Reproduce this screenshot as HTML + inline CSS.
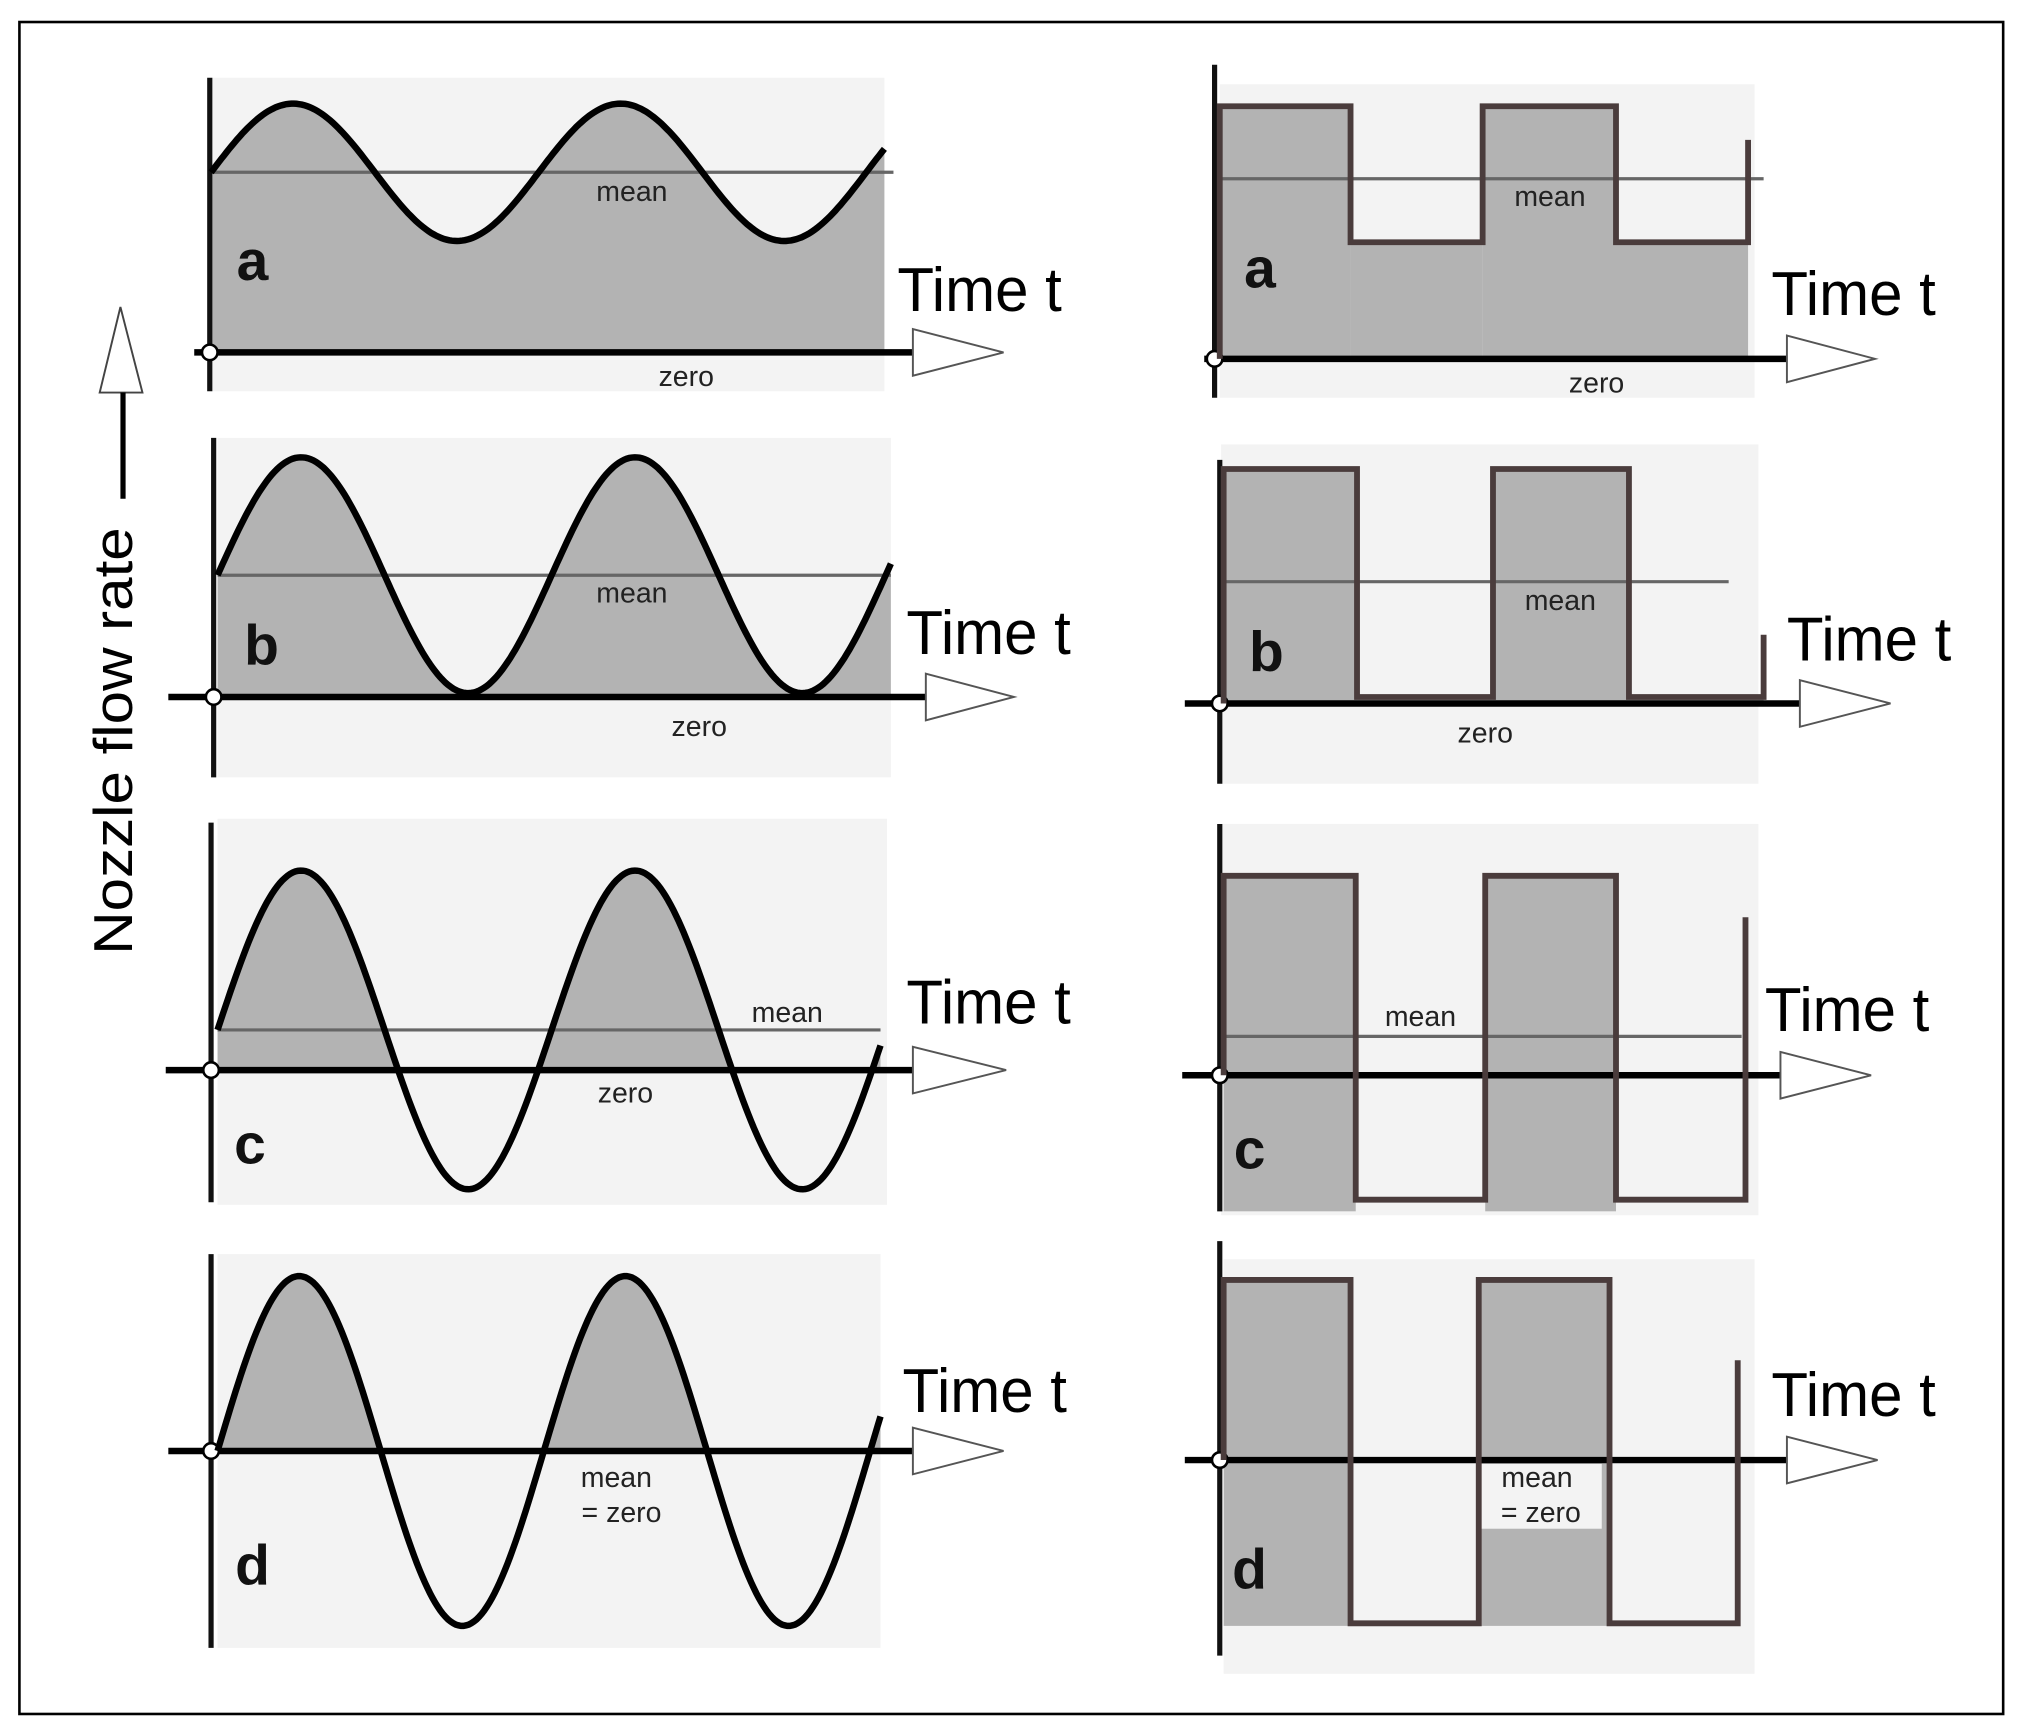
<!DOCTYPE html>
<html><head><meta charset="utf-8"><style>
html,body{margin:0;padding:0;background:#fff;}
svg{display:block;}
text{font-family:"Liberation Sans",sans-serif;}
.lbl{font-size:22px;fill:#222;font-weight:500;}
.big{font-size:44px;font-weight:bold;fill:#111;}
.tt{font-size:48px;fill:#000;}
.nf{font-size:42px;fill:#000;}
</style></head><body>
<svg id="s" width="2020" height="1736" viewBox="0 0 1560 1340" preserveAspectRatio="none" xmlns="http://www.w3.org/2000/svg">
<rect x="15" y="17" width="1532" height="1306" fill="#fff" stroke="#000" stroke-width="2"/>
<g id="g"></g>
<polygon points="93,237 77,303 110,303" fill="#fff" stroke="#444" stroke-width="1.5"/>
<line x1="95" y1="303" x2="95" y2="385" stroke="#000" stroke-width="4"/>
<text class="nf" transform="translate(102,737) rotate(-90)" textLength="330" lengthAdjust="spacingAndGlyphs">Nozzle flow rate</text>
</svg>
<script>
var g=document.getElementById('g');var h='';
function sine(x0,x1,c,A,per,zero,bgx0,bgx1,bgy0,bgy1){
  var pts=[];for(var x=x0;x<=x1;x+=2){pts.push([x,c-A*Math.sin(2*Math.PI*(x-x0)/per)]);}
  var d='M'+pts.map(p=>p[0]+','+p[1].toFixed(1)).join(' L');
  var f='M'+x0+','+zero+' '+pts.map(p=>'L'+p[0]+','+Math.min(p[1],zero).toFixed(1)).join(' ')+' L'+pts[pts.length-1][0]+','+zero+'Z';
  h+='<rect x="'+bgx0+'" y="'+bgy0+'" width="'+(bgx1-bgx0)+'" height="'+(bgy1-bgy0)+'" fill="#f3f3f3"/>';
  h+='<path d="'+f+'" fill="#b3b3b3"/>';
  return d;
}
function axes(ax,ay0,ay1,zy,zx0,zx1,atip){
  h+='<line x1="'+ax+'" y1="'+ay0+'" x2="'+ax+'" y2="'+ay1+'" stroke="#111" stroke-width="4"/>';
  h+='<line x1="'+zx0+'" y1="'+zy+'" x2="'+zx1+'" y2="'+zy+'" stroke="#000" stroke-width="5"/>';
  h+='<polygon points="'+zx1+','+(zy-18)+' '+atip+','+zy+' '+zx1+','+(zy+18)+'" fill="#fff" stroke="#555" stroke-width="1.5"/>';
  h+='<ellipse cx="'+ax+'" cy="'+zy+'" rx="6" ry="6" fill="#fff" stroke="#000" stroke-width="2"/>';
}
function mean(x0,x1,y){h+='<line x1="'+x0+'" y1="'+y+'" x2="'+x1+'" y2="'+y+'" stroke="#666" stroke-width="2.5"/>';}
function txt(x,y,cls,s,anchor){h+='<text x="'+x+'" y="'+y+'" class="'+cls+'" text-anchor="'+(anchor||'middle')+'">'+s+'</text>';}
function timet(x,y){h+='<text x="'+x+'" y="'+y+'" class="tt" textLength="127" lengthAdjust="spacingAndGlyphs">Time t</text>';}
var d;
d=sine(163,683,133,53,253,272,163,683,60,302);
mean(163,690,133);axes(162,60,302,272,150,705,775);
h+='<path d="'+d+'" fill="none" stroke="#000" stroke-width="5"/>';
txt(488,155,'lbl','mean');txt(530,298,'lbl','zero');txt(195,216,'big','a');timet(693,240);
d=sine(168,688,444,91,258,538,168,688,338,600);
mean(168,688,444);axes(165,338,600,538,130,715,783);
h+='<path d="'+d+'" fill="none" stroke="#000" stroke-width="5"/>';
txt(488,465,'lbl','mean');txt(540,568,'lbl','zero');txt(202,513,'big','b');timet(700,505);
d=sine(168,680,795,123,258,826,168,685,632,930);
mean(168,680,795);axes(163,635,928,826,128,705,777);
h+='<path d="'+d+'" fill="none" stroke="#000" stroke-width="5"/>';
txt(608,789,'lbl','mean');txt(483,851,'lbl','zero');txt(193,898,'big','c');timet(700,790);
d=sine(168,680,1120,135,252,1120,168,680,968,1272);
axes(163,968,1272,1120,130,705,775);
h+='<path d="'+d+'" fill="none" stroke="#000" stroke-width="5"/>';
txt(476,1148,'lbl','mean');txt(480,1175,'lbl','= zero');txt(195,1223,'big','d');timet(697,1090);
function sq(bg,xs,hi,lo,endy,zero,fullfill,bot){
  h+='<rect x="'+bg[0]+'" y="'+bg[1]+'" width="'+(bg[2]-bg[0])+'" height="'+(bg[3]-bg[1])+'" fill="#f3f3f3"/>';
  for(var i=0;i<4;i++){var y=(i%2==0)?hi:lo;var yb=(fullfill&&i%2==0)?bot:zero;
    if(y<zero) h+='<rect x="'+xs[i]+'" y="'+y+'" width="'+(xs[i+1]-xs[i])+'" height="'+(yb-y)+'" fill="#b3b3b3"/>';}
  var p='M'+xs[0]+','+(zero)+' L'+xs[0]+','+hi+' L'+xs[1]+','+hi+' L'+xs[1]+','+lo+' L'+xs[2]+','+lo+' L'+xs[2]+','+hi+' L'+xs[3]+','+hi+' L'+xs[3]+','+lo+' L'+xs[4]+','+lo+' L'+xs[4]+','+endy;
  return p;
}
function sqdraw(p){h+='<path d="'+p+'" fill="none" stroke="#4a3c3c" stroke-width="4.5"/>';}
var p=sq([942,65,1355,307],[942,1043,1145,1248,1350],82,187,108,277,false);
mean(942,1362,138);axes(938,50,307,277,930,1380,1448);sqdraw(p);
txt(1197,159,'lbl','mean');txt(1233,303,'lbl','zero');txt(973,222,'big','a');timet(1368,243);
p=sq([943,343,1358,605],[945,1048,1153,1258,1362],362,538,490,543,false);
mean(943,1335,449);axes(942,355,605,543,915,1390,1460);sqdraw(p);
txt(1205,471,'lbl','mean');txt(1147,573,'lbl','zero');txt(978,518,'big','b');timet(1380,510);
p=sq([943,636,1358,938],[945,1047,1147,1248,1348],676,926,708,830,true,935);
h+='<rect x="1050" y="770" width="92" height="28" fill="#f3f3f3"/>';
mean(943,1345,800);axes(942,636,935,830,913,1375,1445);sqdraw(p);
txt(1097,792,'lbl','mean');txt(965,902,'big','c');timet(1363,796);
p=sq([945,972,1355,1292],[945,1043,1142,1243,1342],988,1253,1050,1127,true,1255);
h+='<rect x="1143" y="1130" width="94" height="50" fill="#f3f3f3"/>';
axes(942,958,1278,1127,915,1380,1450);sqdraw(p);
txt(1187,1148,'lbl','mean');txt(1190,1175,'lbl','= zero');txt(965,1226,'big','d');timet(1368,1093);
g.innerHTML=h;
</script>
</body></html>
